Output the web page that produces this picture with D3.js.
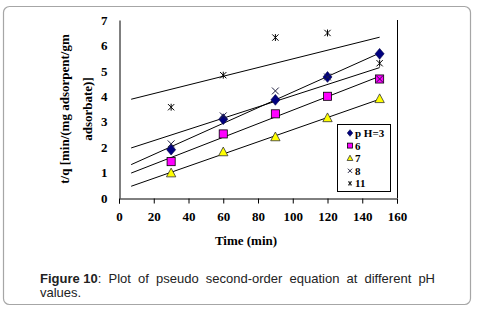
<!DOCTYPE html>
<html><head><meta charset="utf-8">
<script src="https://cdn.jsdelivr.net/npm/d3@7"></script>
<style>body{margin:0;background:#fff}svg{display:block}</style>
</head><body>
<svg id="c" width="477" height="311"></svg>
<script>
const times = [30, 60, 90, 120, 150];
const ph3 = [1.90, 3.10, 3.86, 4.76, 5.67];
const ph6 = [1.43, 2.52, 3.31, 4.00, 4.68];
const ph7 = [0.98, 1.81, 2.40, 3.15, 3.90];
const ph8 = [2.13, 3.23, 4.21, 4.76, 4.68];
const ph11 = [3.57, 4.83, 6.31, 6.49, 5.30];
const seriesNames = ["p H=3", "6", "7", "8", "11"];
const xTicks = [0, 20, 40, 60, 80, 100, 120, 140, 160];
const yTicks = [0, 1, 2, 3, 4, 5, 6, 7];
const trendRange = [7, 150];

const svg = d3.select("#c");
svg.append("rect").attr("x", 3.5).attr("y", 6.5).attr("width", 467).attr("height", 298)
  .attr("rx", 6).attr("fill", "#fff").attr("stroke", "#a6a6a6").attr("stroke-width", 1.2);

const x = d3.scaleLinear().domain([0, 160]).range([119, 397]);
const y = d3.scaleLinear().domain([0, 7]).range([198, 20]);
const serif = "'Liberation Serif','Times New Roman',serif";

// axes
const xa = svg.append("g").attr("transform", "translate(0,198.5)")
  .call(d3.axisBottom(x).tickValues(xTicks).tickFormat(d3.format("d")).tickSize(5).tickPadding(8));
xa.select(".domain").attr("stroke", "#000");
xa.selectAll("text").attr("font-family", serif).attr("font-weight", "bold").attr("font-size", 13).attr("fill", "#000");
const ya = svg.append("g").attr("transform", "translate(119.5,0)")
  .call(d3.axisLeft(y).tickValues(yTicks).tickFormat(d3.format("d")).tickSize(0).tickPadding(12));
ya.select(".domain").attr("stroke", "#000");
ya.selectAll("text").attr("font-family", serif).attr("font-weight", "bold").attr("font-size", 13).attr("fill", "#000");
svg.append("line").attr("x1", 397.5).attr("x2", 397.5).attr("y1", y(7)).attr("y2", 198).attr("stroke", "#000");

// titles
svg.append("text").attr("x", 246).attr("y", 245).attr("text-anchor", "middle")
  .attr("font-family", serif).attr("font-weight", "bold").attr("font-size", 13).text("Time (min)");
const yt = svg.append("text").attr("transform", "translate(69,109) rotate(-90)")
  .attr("text-anchor", "middle").attr("font-family", serif).attr("font-weight", "bold").attr("font-size", 13);
yt.append("tspan").attr("x", 0).attr("y", 0).text("t/q [min/(mg adsorpent/gm");
yt.append("tspan").attr("x", 0).attr("y", 23).text("adsorbate)]");

// series
const data = [ph3, ph6, ph7, ph8, ph11];
function fit(vals) {
  const mx = d3.mean(times), my = d3.mean(vals);
  const s = d3.sum(times, (t, i) => (t - mx) * (vals[i] - my)) / d3.sum(times, t => (t - mx) ** 2);
  return t => my + s * (t - mx);
}
const line = d3.line().x(d => x(d[0])).y(d => y(d[1]));
data.forEach(vals => {
  const f = fit(vals);
  svg.append("path").attr("d", line(trendRange.map(t => [t, f(t)])))
    .attr("fill", "none").attr("stroke", "#000").attr("stroke-width", 1);
});

function marker(g, k, cx, cy, s) {
  if (k === 0) {
    g.append("path").attr("d", `M${cx},${cy - s * 0.6}L${cx + s * 0.5},${cy}L${cx},${cy + s * 0.6}L${cx - s * 0.5},${cy}Z`)
      .attr("fill", "#000080").attr("stroke", "#000040").attr("stroke-width", 0.6);
  } else if (k === 1) {
    g.append("rect").attr("x", cx - s * 0.45).attr("y", cy - s * 0.45).attr("width", s * 0.9).attr("height", s * 0.9)
      .attr("fill", "#ff00ff").attr("stroke", "#000").attr("stroke-width", 0.8);
  } else if (k === 2) {
    g.append("path").attr("d", `M${cx},${cy - s * 0.55}L${cx + s * 0.52},${cy + s * 0.42}L${cx - s * 0.52},${cy + s * 0.42}Z`)
      .attr("fill", "#ffff00").attr("stroke", "#333").attr("stroke-width", 0.8);
  } else if (k === 3) {
    const h = s * 0.38;
    g.append("path").attr("d", `M${cx - h},${cy - h}L${cx + h},${cy + h}M${cx - h},${cy + h}L${cx + h},${cy - h}`)
      .attr("stroke", "#202040").attr("stroke-width", 1);
  } else {
    const h = s * 0.35;
    g.append("path").attr("d", `M${cx - h},${cy - h}L${cx + h},${cy + h}M${cx - h},${cy + h}L${cx + h},${cy - h}M${cx},${cy - h * 1.1}L${cx},${cy + h * 1.1}`)
      .attr("stroke", "#000").attr("stroke-width", 1);
  }
}
const mg = svg.append("g");
data.forEach((vals, k) => vals.forEach((v, i) => marker(mg, k, x(times[i]), y(v), 9)));

// legend
svg.append("rect").attr("x", 337.5).attr("y", 124.5).attr("width", 53).attr("height", 67)
  .attr("fill", "#fff").attr("stroke", "#000").attr("stroke-width", 1);
const lg = svg.append("g");
seriesNames.forEach((n, k) => {
  const ly = 133 + k * 12.6;
  marker(lg, k, 350, ly, 5.5);
  lg.append("text").attr("x", 355).attr("y", ly + 4).attr("font-family", serif)
    .attr("font-weight", "bold").attr("font-size", 11).text(n);
});

// caption (justified first line)
const sans = "'Liberation Sans',Arial,sans-serif";
const words = ["Figure 10:", "Plot", "of", "pseudo", "second-order", "equation", "at", "different", "pH"];
const cg = svg.append("g").attr("font-family", sans).attr("font-size", 13).attr("fill", "#222");
const nodes = words.map(w => {
  const t = cg.append("text").attr("y", 283);
  if (w.startsWith("Figure")) {
    t.append("tspan").attr("font-weight", "bold").text("Figure 10");
    t.append("tspan").text(":");
  } else t.text(w);
  return t;
});
const widths = nodes.map(t => t.node().getComputedTextLength());
const left = 40, right = 435;
const gap = (right - left - d3.sum(widths)) / (words.length - 1);
let cx = left;
nodes.forEach((t, i) => { t.attr("x", cx); cx += widths[i] + gap; });
cg.append("text").attr("x", left).attr("y", 297).text("values.");
</script>
</body></html>
